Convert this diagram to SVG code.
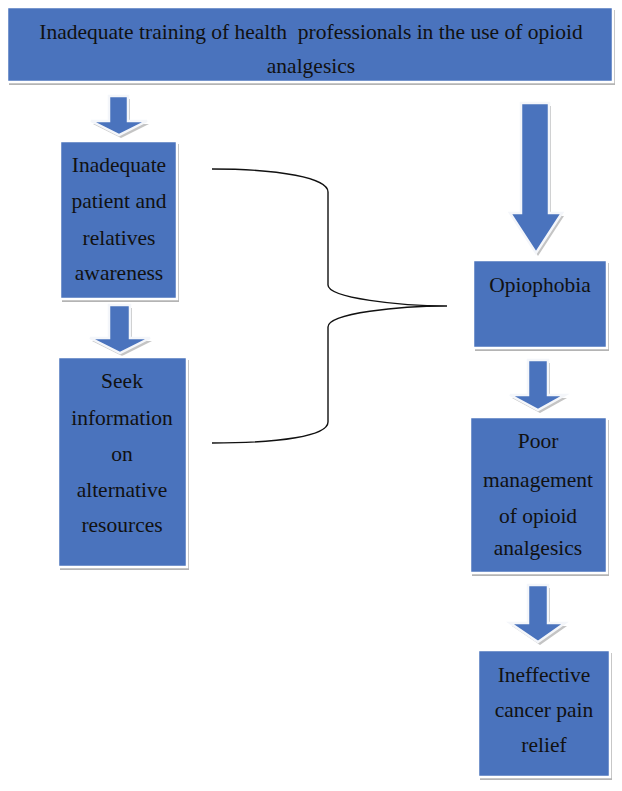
<svg xmlns="http://www.w3.org/2000/svg" width="622" height="791" viewBox="0 0 622 791">
<style>
.sh{fill:#b4b4b4}
.bx{fill:#4a73bd;stroke:#ffffff;stroke-width:2.5}
.ar{fill:#4a73bd;stroke:#f4f6fa;stroke-width:2.5;stroke-linejoin:miter}
.ash{fill:#c4c4c4}
.t{font-family:"Liberation Serif","Times New Roman",serif;font-size:21.5px;fill:#111;text-anchor:middle;white-space:pre}
.br{fill:none;stroke:#111;stroke-width:1.4}
</style>
<rect width="622" height="791" fill="#ffffff"/>
<g id="top">
<rect class="sh" x="9" y="10" width="606" height="75"/>
<rect class="bx" x="7" y="7" width="606" height="75"/>
<text class="t" x="311" y="39" xml:space="preserve">Inadequate training of health  professionals in the use of opioid</text>
<text class="t" x="311" y="73">analgesics</text>
</g>
<g id="connectors">
<g id="arrow1">
<path class="ash" d="M111,99 H130 V124 H149 L121,138 L93,124 H111 Z"/>
<path class="ar" d="M109,96 H128 V121 H147 L119,135 L91,121 H109 Z"/>
</g>
<g id="arrow2">
<path class="ash" d="M111,308 H132 V341 H152 L122,356 L92,341 H111 Z"/>
<path class="ar" d="M109,305 H130 V338 H150 L120,353 L90,338 H109 Z"/>
</g>
<g id="arrow_big">
<path class="ash" d="M523,106 H551 V216 H564 L538,256 L512,216 H523 Z"/>
<path class="ar" d="M521,103 H549 V213 H562 L536,253 L510,213 H521 Z"/>
</g>
<g id="arrow3">
<path class="ash" d="M530,363 H550 V398 H567 L540,413 L512,398 H530 Z"/>
<path class="ar" d="M528,360 H548 V395 H565 L538,410 L510,395 H528 Z"/>
</g>
<g id="arrow4">
<path class="ash" d="M530,588 H550 V626 H567 L540,645 L512,626 H530 Z"/>
<path class="ar" d="M528,585 H548 V623 H565 L538,642 L510,623 H528 Z"/>
</g>
<path id="brace" class="br" d="M212,169 C280,169 328,178 328,192 L328,285 C328,298 400,306 447,306 C400,306 328,313 328,327 L328,422 C328,436 280,443 212,443"/>
</g>
<g id="awareness">
<rect class="sh" x="62" y="144" width="117" height="158"/>
<rect class="bx" x="60" y="141" width="117" height="158"/>
<text class="t" x="119" y="172">Inadequate</text>
<text class="t" x="119" y="208">patient and</text>
<text class="t" x="119" y="245">relatives</text>
<text class="t" x="119" y="280">awareness</text>
</g>
<g id="seek">
<rect class="sh" x="60" y="360" width="129" height="210"/>
<rect class="bx" x="58" y="357" width="129" height="210"/>
<text class="t" x="122" y="388">Seek</text>
<text class="t" x="122" y="425">information</text>
<text class="t" x="122" y="461">on</text>
<text class="t" x="122" y="497">alternative</text>
<text class="t" x="122" y="532">resources</text>
</g>
<g id="opiophobia">
<rect class="sh" x="475" y="263" width="134" height="88"/>
<rect class="bx" x="473" y="260" width="134" height="88"/>
<text class="t" x="540" y="292">Opiophobia</text>
</g>
<g id="poor">
<rect class="sh" x="472" y="420" width="137" height="156"/>
<rect class="bx" x="470" y="417" width="137" height="156"/>
<text class="t" x="538" y="448">Poor</text>
<text class="t" x="538" y="487">management</text>
<text class="t" x="538" y="523">of opioid</text>
<text class="t" x="538" y="555">analgesics</text>
</g>
<g id="ineffective">
<rect class="sh" x="480" y="653" width="132" height="127"/>
<rect class="bx" x="478" y="650" width="132" height="127"/>
<text class="t" x="544" y="682">Ineffective</text>
<text class="t" x="544" y="717">cancer pain</text>
<text class="t" x="544" y="752">relief</text>
</g>
</svg>
